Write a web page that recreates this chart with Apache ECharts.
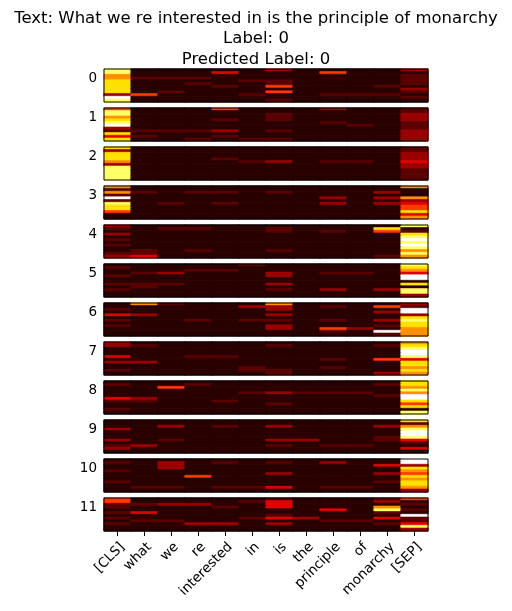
<!DOCTYPE html>
<html lang="en">
<head>
<meta charset="UTF-8">
<title>attention</title>
<style>
  html, body { margin: 0; padding: 0; background: #fff; }
  #main { width: 512px; height: 611px; }
</style>
<script src="https://cdn.jsdelivr.net/npm/echarts@6/dist/echarts.min.js"></script>
</head>
<body>
<div id="main"></div>
<script>
// tokens on the x axis
var tokens = ['[CLS]', 'what', 'we', 're', 'interested', 'in', 'is', 'the', 'principle', 'of', 'monarchy', '[SEP]'];
var titleLines = ['Text: What we re interested in is the principle of monarchy', 'Label: 0', 'Predicted Label: 0'];

// one panel per layer: 12 heads (rows) x 12 tokens, each digit = level 0..9
var L0 = ['811111311113','811141115111','611111111112','622211111112','711112211112','711211211112',
          '711121511121','711111111113','712111511112','351112112221','911111111112','811111211111'];
var L1 = ['511151113112','811111111112','811111211113','611111211113','711121211113','811111112112',
          '911111111212','311111111112','222231211113','711111111113','421121111113','711212211113'];
var L2 = ['711111111112','311111111112','711111111113','711111111113','711121111113','611112312214',
          '311111111113','811111111113','811111111112','811111111112','811111111112','811111111112'];
var L3 = ['611111111116','211111111111','621221211131','211111111111','911111113136','211111111113',
          '812121113134','711111111115','711111111115','511111111117','111111111114','111111111116'];
var L4 = ['311111111118','212211211171','111111212152','311111111117','111111111118','211111111119',
          '111111111118','211111111119','111111111118','121211211116','221111111118','341111111126'];
var L5 = ['111112111118','211111111117','111221111116','123111312214','211111311119','111111111119',
          '111111111111','222111311117','121111111111','211111213138','111111111118','111111111113'];
var L6 = ['162111611113','111113312152','211111311119','111111111139','431111311113','111111111117',
          '211212212138','111111111117','211111311127','111111315316','111111112196','111111111126'];
var L7 = ['311111111116','321111211127','111111111118','111111111119','111111111119','411221111118',
          '111111112154','331111111117','111111111117','111112112116','211112211117','111111211136'];
var L8 = ['111111111117','211211111127','115111111116','111111111118','111112322216','111111111129',
          '431111111119','221121111117','111111211115','111111111117','211111111111','111111111118'];
var L9 = ['111111111117','111111111112','113121311136','311111111118','111111111119','111111111119',
          '111111111128','312111331124','111111111112','231111212211','311111111114','111111111111'];
var L10 = ['111111111119','213121213119','113111111143','113111111117','211111111116','111111311135',
           '111511111117','111111111116','211111111127','111111111117','122122412216','111111111113'];
var L11 = ['511111211125','511112411131','223311411112','211121411161','111111114182','241111111121',
           '111111211119','211112431142','122111112212','211331311124','111111111118','111111111113'];
var layers = [L0, L1, L2, L3, L4, L5, L6, L7, L8, L9, L10, L11];

// 'hot' colormap sampled at each level
var hotColors = ['#000000', '#2a0000', '#5b0000', '#9a0000', '#e00000', '#ff3900',
                 '#ff9000', '#ffe000', '#ffff68', '#ffffff'];

var font = 'DejaVu Sans';
var panelTop = 69, panelStep = 39, panelH = 33;
var heads = [];
for (var h = 0; h < 12; h++) heads.push(String(h));

var grids = [], xAxes = [], yAxes = [], series = [];
layers.forEach(function (rows, k) {
    var last = k === layers.length - 1;
    grids.push({
        left: 104, width: 324, top: panelTop + panelStep * k, height: panelH,
        show: true, borderColor: '#000', borderWidth: 1, backgroundColor: 'transparent', z: 10
    });
    xAxes.push({
        type: 'category', gridIndex: k, data: tokens, show: last,
        axisLine: { show: false },
        axisTick: { show: last, alignWithLabel: true, length: 5, lineStyle: { color: '#000' } },
        axisLabel: {
            show: last, interval: 0, rotate: 45, margin: 9, verticalAlign: 'top', align: 'right',
            color: '#000', fontSize: 13.5, fontFamily: font
        },
        splitLine: { show: false }
    });
    // the layer number sits beside head 3, as in the original
    yAxes.push({
        type: 'category', gridIndex: k, data: heads, inverse: true,
        axisLine: { show: false }, axisTick: { show: false },
        axisLabel: {
            interval: function (i) { return i === 3; },
            formatter: function () { return String(k); },
            margin: 7, color: '#000', fontSize: 13.5, fontFamily: font
        },
        splitLine: { show: false }
    });
    var data = [];
    rows.forEach(function (row, r) {
        for (var c = 0; c < row.length; c++) {
            var lvl = +row[c];
            // thin stroke in the cell's own colour hides seams between cells
            data.push({
                value: [c, r, lvl],
                itemStyle: { color: hotColors[lvl], borderColor: hotColors[lvl], borderWidth: 0.6 }
            });
        }
    });
    series.push({
        type: 'heatmap', xAxisIndex: k, yAxisIndex: k, data: data,
        emphasis: { disabled: true }, progressive: 0, animation: false
    });
});

var chart = echarts.init(document.getElementById('main'));
chart.setOption({
    animation: false,
    backgroundColor: '#fff',
    title: {
        text: titleLines.join('\n'), left: 'center', top: 3,
        textStyle: { fontFamily: font, fontSize: 16.5, fontWeight: 'normal', color: '#000', lineHeight: 20.5 }
    },
    grid: grids,
    xAxis: xAxes,
    yAxis: yAxes,
    series: series
});
</script>
</body>
</html>
